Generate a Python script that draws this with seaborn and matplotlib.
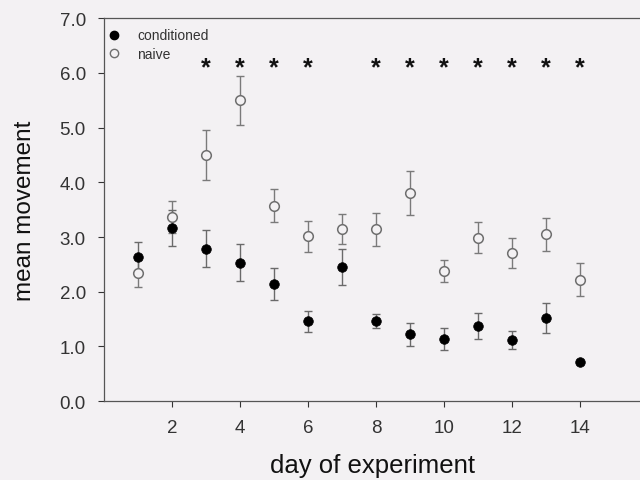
import numpy as np
import pandas as pd
import matplotlib
matplotlib.use("Agg")
import matplotlib.pyplot as plt
import seaborn as sns
from matplotlib.lines import Line2D

days = list(range(1, 15))
conditioned_mean = [2.63, 3.17, 2.79, 2.53, 2.14, 1.46, 2.46, 1.47, 1.22, 1.14, 1.38, 1.12, 1.52, 0.71]
conditioned_err = [0.27, 0.33, 0.33, 0.34, 0.30, 0.19, 0.33, 0.13, 0.21, 0.20, 0.24, 0.17, 0.28, 0.04]
naive_mean = [2.34, 3.36, 4.50, 5.50, 3.57, 3.01, 3.15, 3.14, 3.81, 2.38, 2.99, 2.71, 3.05, 2.22]
naive_err = [0.26, 0.29, 0.45, 0.45, 0.30, 0.29, 0.27, 0.30, 0.40, 0.20, 0.29, 0.27, 0.30, 0.30]
star_days = [3, 4, 5, 6, 8, 9, 10, 11, 12, 13, 14]
star_level = 6.1
y_ticks = [0, 1, 2, 3, 4, 5, 6, 7]
x_ticks = [2, 4, 6, 8, 10, 12, 14]

sns.set_style("ticks")
plt.rcParams['font.family'] = ['Liberation Sans', 'DejaVu Sans']

bg = '#f3f1f3'
fig = plt.figure(figsize=(6.4, 4.81), dpi=100, facecolor=bg)
ax = fig.add_axes([0.1625, 0.164, 0.8375, 0.796])
ax.set_facecolor(bg)

df = pd.DataFrame({
    'day': days * 2,
    'mean': conditioned_mean + naive_mean,
    'err': conditioned_err + naive_err,
    'group': ['conditioned'] * len(days) + ['naive'] * len(days),
})

for g, col in [('naive', '#7a7a7a'), ('conditioned', '#6a6a6a')]:
    sub = df[df.group == g]
    ax.errorbar(sub['day'], sub['mean'], yerr=sub['err'], fmt='none',
                ecolor=col, elinewidth=1.0, capsize=2.7, capthick=1.0, zorder=2)

sub = df[df.group == 'naive']
sns.scatterplot(x=sub['day'], y=sub['mean'], ax=ax, marker='o', s=48,
                facecolor=bg, edgecolor='#6e6e6e', linewidth=1.1, zorder=3, legend=False)
sub = df[df.group == 'conditioned']
sns.scatterplot(x=sub['day'], y=sub['mean'], ax=ax, marker='o', s=48,
                color='black', edgecolor='black', linewidth=0.5, zorder=4, legend=False)

for d in star_days:
    ax.text(d, star_level, '*', ha='center', va='center', fontsize=18,
            fontweight='bold', color='#111111')

ax.set_xlim(0, 15.76)
ax.set_ylim(0, 7)
ax.set_xticks(x_ticks)
ax.set_xticklabels([str(t) for t in x_ticks])
ax.set_yticks(y_ticks)
ax.set_yticklabels([f"{t:.1f}" for t in y_ticks])
ax.tick_params(axis='both', labelsize=13.5, colors='#333333', labelcolor='#333333',
               length=4, width=0.8, direction='out')
ax.tick_params(axis='x', pad=9)
ax.tick_params(axis='y', pad=9)
ax.set_xlabel('day of experiment', fontsize=18.5, color='#111111', labelpad=12)
ax.set_ylabel('mean movement', fontsize=17.5, color='#111111', labelpad=17)
for s in ['left', 'bottom', 'top']:
    ax.spines[s].set_color('#555555')
    ax.spines[s].set_linewidth(0.9)
ax.spines['right'].set_visible(False)

handles = [
    Line2D([], [], marker='o', linestyle='none', color='black', markersize=6),
    Line2D([], [], marker='o', linestyle='none', markerfacecolor=bg,
           markeredgecolor='#6e6e6e', markersize=6),
]
leg = ax.legend(handles, ['conditioned', 'naive'], loc='upper left', frameon=False,
                fontsize=10, handlelength=1.0, handletextpad=1.2, borderaxespad=0.2,
                labelspacing=0.3, bbox_to_anchor=(-0.01, 0.995))
for t in leg.get_texts():
    t.set_color('#333333')

fig.savefig('out.png', dpi=100, facecolor=bg)
